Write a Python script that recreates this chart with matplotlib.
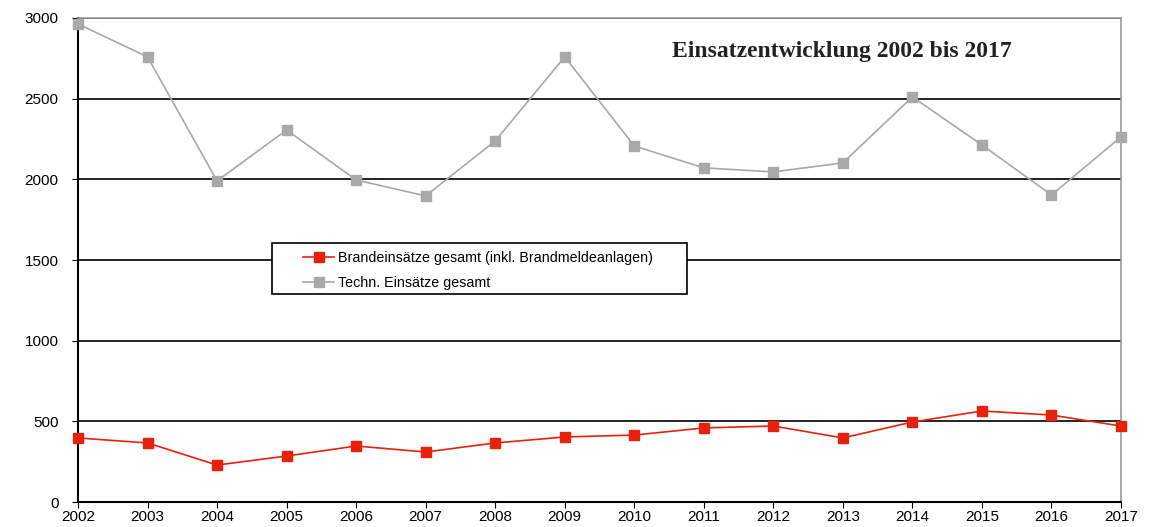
import numpy as np
import matplotlib.pyplot as plt
from matplotlib.patches import Rectangle

years = list(range(2002, 2018))
brand = [397, 366, 229, 285, 347, 310, 366, 403, 415, 459, 471, 397, 496, 564, 539, 471]
techn = [2963, 2759, 1990, 2306, 1996, 1897, 2238, 2759, 2207, 2071, 2046, 2102, 2511, 2213, 1903, 2263]

plt.rcParams['font.family'] = ['Liberation Sans', 'DejaVu Sans']

W, H = 1161, 527
x0, x1, y0, y1 = 78, 1121, 18, 502
fig = plt.figure(figsize=(W / 100, H / 100), dpi=100)
ax = fig.add_axes([x0 / W, (H - y1) / H, (x1 - x0) / W, (y1 - y0) / H])

def ax_xy(px, py):
    # pixel position of the picture -> axes fraction
    return (px - x0) / (x1 - x0), (y1 - py) / (y1 - y0)

ax.plot(years, brand, color='#e8210a', marker='s', markersize=7, linewidth=1.2,
        label='Brandeinsätze gesamt (inkl. Brandmeldeanlagen)', clip_on=False, zorder=4)
ax.plot(years, techn, color='#a9a9a9', marker='s', markersize=7, linewidth=1.2,
        label='Techn. Einsätze gesamt', clip_on=False, zorder=3)

ax.set_xlim(2002, 2017)
ax.set_ylim(0, 3000)
ax.set_xticks(years)
ax.set_yticks(np.arange(0, 3001, 500))
ax.yaxis.grid(True, color='black', linewidth=1.2)
ax.set_axisbelow(True)
ax.tick_params(labelsize=11, length=4, color='black')
ax.tick_params(axis='x', pad=2)
ax.tick_params(axis='y', pad=10)

ax.spines['left'].set_color('black')
ax.spines['left'].set_linewidth(1.5)
ax.spines['bottom'].set_color('black')
ax.spines['bottom'].set_linewidth(1.5)
ax.spines['top'].set_color('#999999')
ax.spines['right'].set_color('#999999')
ax.spines['top'].set_linewidth(1.2)
ax.spines['right'].set_linewidth(1.2)

tx, ty = ax_xy(1012, 52)
ax.text(tx, ty, 'Einsatzentwicklung 2002 bis 2017', transform=ax.transAxes,
        ha='right', va='center', fontsize=17, fontweight='bold',
        family='Liberation Serif', color='#222222')

# legend frame drawn by hand, entries placed inside it
bx, by = ax_xy(272, 294)
bw = (687 - 272) / (x1 - x0)
bh = (294 - 243) / (y1 - y0)
ax.add_patch(Rectangle((bx, by), bw, bh, transform=ax.transAxes, facecolor='white',
                       edgecolor='black', linewidth=1.2, zorder=5))
lx, ly = ax_xy(303, 270.5)
leg = ax.legend(loc='center left', bbox_to_anchor=(lx, ly), frameon=False,
                fontsize=10.3, handlelength=2.2, borderpad=0, labelspacing=0.8,
                handletextpad=0.25, borderaxespad=0)
leg.set_zorder(6)

fig.savefig('out.png', dpi=100)
